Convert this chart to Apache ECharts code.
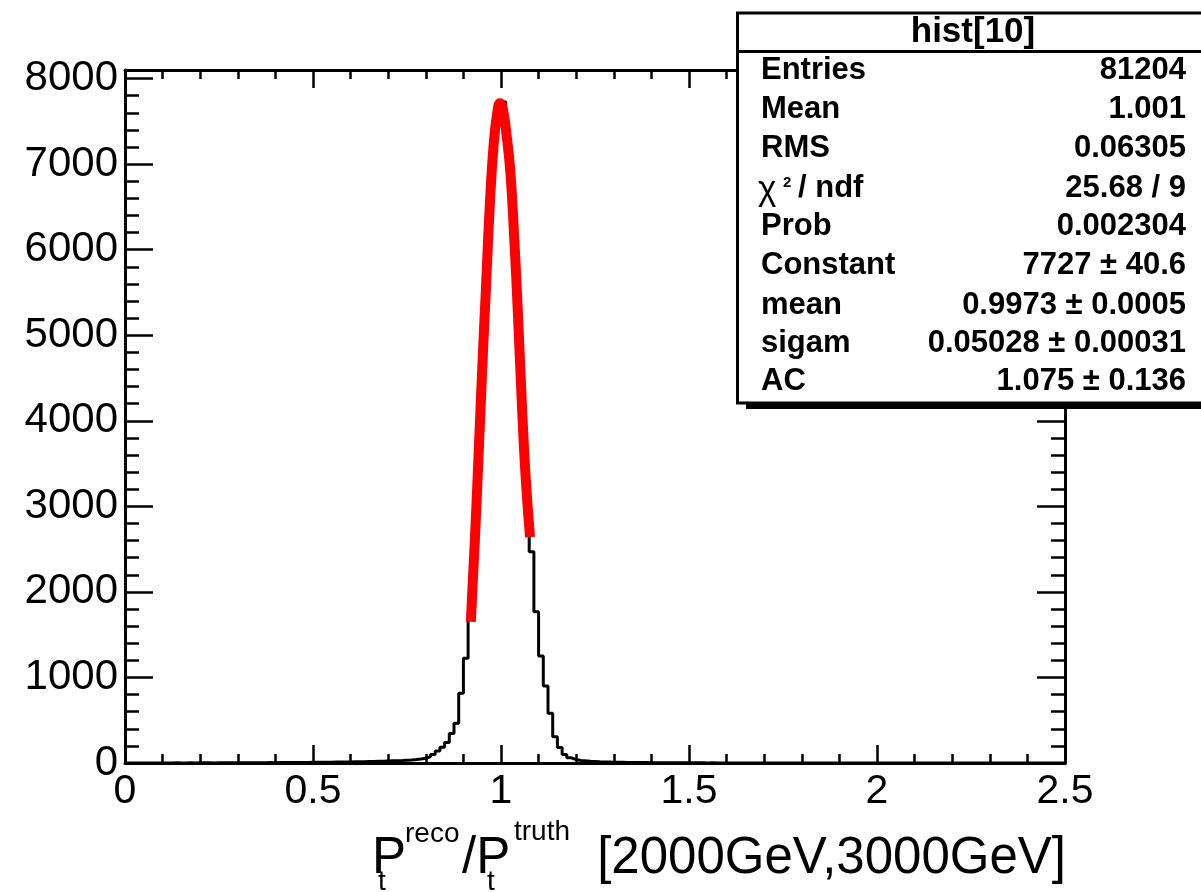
<!DOCTYPE html>
<html>
<head>
<meta charset="utf-8">
<script src="https://cdn.jsdelivr.net/npm/echarts@6/dist/echarts.min.js"></script>
<style>
html,body{margin:0;padding:0;background:#fff;}
#chart{width:1201px;height:892px;}
</style>
</head>
<body>
<div id="chart"></div>
<script>
// ---------------- data ----------------
const binLow = 0;
const binHigh = 2.5;
const binWidth = 0.0125;
const counts = [
  0,1,0,1,1,0,1,1,
  1,1,2,1,1,2,1,2,
  2,2,1,2,3,2,2,3,
  3,3,4,3,4,4,5,4,
  5,5,6,6,7,6,7,8,
  8,9,9,10,11,11,12,13,
  14,15,16,17,18,20,21,23,
  25,27,29,32,35,40,46,55,
  75,100,140,185,240,345,464,814,
  1223,1700,2700,3950,5200,6550,7350,7700,
  7725,7200,6400,5250,4050,3200,2468,1768,
  1250,900,581,307,180,100,60,40,
  30,25,21,18,15,13,12,10,
  9,8,7,6,6,5,5,4,
  4,4,3,3,3,3,2,2,
  2,2,2,1,2,1,1,1,
  1,1,0,1,1,0,1,0,
  1,0,0,1,0,0,1,0,
  0,0,1,0,0,0,0,1,
  0,0,0,0,1,0,0,0,
  0,0,0,1,0,0,0,0,
  0,0,0,0,0,0,1,0,
  0,0,0,0,0,0,0,0,
  0,0,0,0,0,0,0,0,
  0,0,0,0,0,0,0,0
];
const fitX = [0.9198, 0.9300, 0.9400, 0.9500, 0.9600, 0.9700, 0.9800, 0.9900, 0.9973,
              1.0050, 1.0150, 1.0250, 1.0350, 1.0450, 1.0550, 1.0650, 1.0772];
const fitY = [1650, 2560, 3560, 4600, 5550, 6500, 7200, 7600, 7710,
              7640, 7330, 6900, 6150, 5250, 4250, 3380, 2640];
const yMax = 8100;
const statsTitle = 'hist[10]';
const statsLabels = ['Entries', 'Mean', 'RMS', 'CHI', 'Prob', 'Constant', 'mean', 'sigam', 'AC'];
const statsValues = ['81204', '1.001', '0.06305', '25.68 / 9', '0.002304', '7727 \u00b1 40.6', '0.9973 \u00b1 0.0005', '0.05028 \u00b1 0.00031', '1.075 \u00b1 0.136'];

// ---------------- build ----------------
const histPoints = counts.map((c, i) => [binLow + i * binWidth, c]);
histPoints.push([binHigh, counts[counts.length - 1]]);
const fitPoints = fitX.map((x, i) => [x, fitY[i]]);

const FONT = '"Liberation Sans", Helvetica, Arial, sans-serif';
const chart = echarts.init(document.getElementById('chart'), null, {renderer: 'canvas'});

const gridPos = {left: 125, right: 136, top: 70, bottom: 129, containLabel: false};
const lineW = 3;
const tickW = 2.5;

const graphics = [];
// stats box shadow + box
graphics.push({type: 'rect', z: 100, shape: {x: 746, y: 20, width: 480, height: 389}, style: {fill: '#000'}});
graphics.push({type: 'rect', z: 101, shape: {x: 737.5, y: 13, width: 480, height: 390}, style: {fill: '#fff', stroke: '#000', lineWidth: 3}});
graphics.push({type: 'line', z: 102, shape: {x1: 737, y1: 51.5, x2: 1201, y2: 51.5}, style: {stroke: '#000', lineWidth: 3}});
graphics.push({type: 'text', z: 103, x: 973, y: 32, style: {text: statsTitle, fontFamily: FONT, fontWeight: 'bold', fontSize: 35, fill: '#000', align: 'center', verticalAlign: 'middle'}});
const rowBase = [80, 119.3, 158.3, 198, 236.7, 275.7, 315, 353.3, 391.7];
statsLabels.forEach((lab, i) => {
  const yMid = rowBase[i] - 10;
  if (lab === 'CHI') {
    graphics.push({type: 'text', z: 103, x: 758, y: yMid + 2, style: {text: '\u03c7', fontFamily: FONT, fontSize: 35, fill: '#000', align: 'left', verticalAlign: 'middle'}});
    graphics.push({type: 'text', z: 103, x: 783, y: 182.5, style: {text: '2', fontFamily: FONT, fontWeight: 'bold', fontSize: 15, fill: '#000', align: 'left', verticalAlign: 'middle'}});
    graphics.push({type: 'text', z: 103, x: 798, y: yMid, style: {text: '/ ndf', fontFamily: FONT, fontWeight: 'bold', fontSize: 31, fill: '#000', align: 'left', verticalAlign: 'middle'}});
  } else {
    graphics.push({type: 'text', z: 103, x: 761, y: yMid, style: {text: lab, fontFamily: FONT, fontWeight: 'bold', fontSize: 31, fill: '#000', align: 'left', verticalAlign: 'middle'}});
  }
  graphics.push({type: 'text', z: 103, x: 1186, y: yMid, style: {text: statsValues[i], fontFamily: FONT, fontWeight: 'bold', fontSize: 31, fill: '#000', align: 'right', verticalAlign: 'middle'}});
});
// x-axis title
const tStyle = (t, fs) => ({text: t, fontFamily: FONT, fontSize: fs, fill: '#000', align: 'left', verticalAlign: 'middle'});
graphics.push({type: 'text', x: 372, y: 859, style: tStyle('P', 51)});
graphics.push({type: 'text', x: 405, y: 834, style: tStyle('reco', 28)});
graphics.push({type: 'text', x: 378, y: 882, style: tStyle('t', 28)});
graphics.push({type: 'text', x: 462, y: 859, style: tStyle('/P', 51)});
graphics.push({type: 'text', x: 514, y: 832, style: tStyle('truth', 28)});
graphics.push({type: 'text', x: 487, y: 882, style: tStyle('t', 28)});
graphics.push({type: 'text', x: 1066, y: 859, style: Object.assign(tStyle('[2000GeV,3000GeV]', 51), {align: 'right'})});

const axisCommon = {
  splitLine: {show: false},
  axisLine: {show: true, onZero: false, lineStyle: {color: '#000', width: lineW}},
};

const option = {
  animation: false,
  backgroundColor: '#fff',
  grid: [Object.assign({}, gridPos), Object.assign({}, gridPos)],
  xAxis: [
    Object.assign({}, axisCommon, {
      type: 'value', gridIndex: 0, position: 'bottom', min: 0, max: 2.5, interval: 0.5,
      axisTick: {show: true, inside: true, length: 18, lineStyle: {color: '#000', width: tickW}},
      minorTick: {show: true, splitNumber: 5, length: 9, lineStyle: {color: '#000', width: tickW}},
      axisLabel: {show: true, margin: 8, color: '#000', fontFamily: FONT, fontSize: 41}
    }),
    Object.assign({}, axisCommon, {
      type: 'value', gridIndex: 0, position: 'top', min: 0, max: 2.5, interval: 0.5,
      axisTick: {show: true, inside: true, length: 18, lineStyle: {color: '#000', width: tickW}},
      minorTick: {show: true, splitNumber: 5, length: 9, lineStyle: {color: '#000', width: tickW}},
      axisLabel: {show: false}
    }),
    {type: 'value', gridIndex: 1, min: 0, max: 2.5, show: false}
  ],
  yAxis: [
    Object.assign({}, axisCommon, {
      type: 'value', gridIndex: 0, position: 'left', min: 0, max: yMax, interval: 1000,
      axisTick: {show: true, inside: true, length: 28, lineStyle: {color: '#000', width: tickW}},
      axisLabel: {show: true, margin: 7, color: '#000', fontFamily: FONT, fontSize: 42,
        formatter: v => (v % 1000 === 0 ? String(v) : '')}
    }),
    Object.assign({}, axisCommon, {
      type: 'value', gridIndex: 0, position: 'right', min: 0, max: yMax, interval: 1000,
      axisTick: {show: true, inside: true, length: 28, lineStyle: {color: '#000', width: tickW}},
      axisLabel: {show: false}
    }),
    {
      type: 'value', gridIndex: 1, position: 'left', min: 0, max: yMax, interval: 200,
      splitLine: {show: false}, axisLine: {show: false},
      axisTick: {show: true, inside: true, length: 14, lineStyle: {color: '#000', width: tickW}},
      axisLabel: {show: false}
    },
    {
      type: 'value', gridIndex: 1, position: 'right', min: 0, max: yMax, interval: 200,
      splitLine: {show: false}, axisLine: {show: false},
      axisTick: {show: true, inside: true, length: 14, lineStyle: {color: '#000', width: tickW}},
      axisLabel: {show: false}
    }
  ],
  series: [
    {
      type: 'line', xAxisIndex: 0, yAxisIndex: 0, data: histPoints, step: 'end',
      showSymbol: false, symbol: 'none', z: 3,
      lineStyle: {color: '#000', width: 3}
    },
    {
      type: 'line', xAxisIndex: 0, yAxisIndex: 0, data: fitPoints, smooth: 0.5,
      showSymbol: false, symbol: 'none', z: 4,
      lineStyle: {color: '#ff0000', width: 10, cap: 'butt', join: 'round'}
    }
  ],
  graphic: graphics
};
chart.setOption(option);
</script>
</body>
</html>
